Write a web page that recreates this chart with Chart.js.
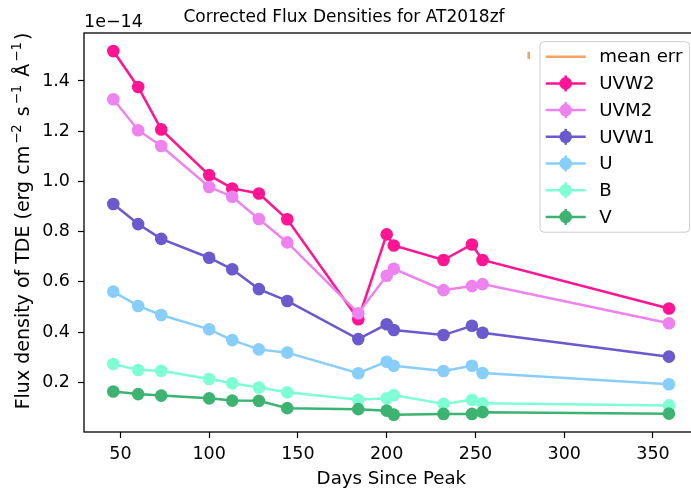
<!DOCTYPE html>
<html>
<head>
<meta charset="utf-8">
<title>Corrected Flux Densities for AT2018zf</title>
<script src="https://cdn.jsdelivr.net/npm/chart.js@4.4.0/dist/chart.umd.min.js"></script>
<style>
html, body { margin: 0; padding: 0; background: #fff; overflow: hidden; }
#wrap { position: relative; width: 705px; height: 492px; }
</style>
</head>
<body>
<div id="wrap"><canvas id="fluxChart" width="705" height="492"></canvas></div>
<script>
// days since peak for every epoch
const days = [46, 60, 73, 100, 113, 128, 144, 184, 200, 204, 232, 248, 254, 359];

// flux densities, in units of 1e-14 erg cm^-2 s^-1 A^-1
const uvw2 = [1.519, 1.376, 1.207, 1.025, 0.972, 0.952, 0.849, 0.451, 0.789, 0.745, 0.687, 0.749, 0.687, 0.494];
const uvm2 = [1.327, 1.204, 1.141, 0.978, 0.939, 0.850, 0.757, 0.475, 0.624, 0.652, 0.567, 0.583, 0.591, 0.435];
const uvw1 = [0.910, 0.830, 0.771, 0.696, 0.650, 0.571, 0.524, 0.372, 0.431, 0.408, 0.388, 0.425, 0.397, 0.302];
const uBand = [0.561, 0.504, 0.468, 0.411, 0.368, 0.331, 0.318, 0.236, 0.282, 0.266, 0.245, 0.266, 0.237, 0.192];
const bBand = [0.273, 0.249, 0.246, 0.213, 0.196, 0.179, 0.160, 0.130, 0.136, 0.149, 0.114, 0.130, 0.116, 0.108];
const vBand = [0.163, 0.153, 0.147, 0.136, 0.127, 0.126, 0.097, 0.093, 0.087, 0.071, 0.074, 0.074, 0.081, 0.075];

const bandNames = ['UVW2', 'UVM2', 'UVW1', 'U', 'B', 'V'];
const bandValues = [uvw2, uvm2, uvw1, uBand, bBand, vBand];
const bandColors = ['#FF1493', '#EE82EE', '#6A5ACD', '#87CEFA', '#7FFFD4', '#3CB371'];

// mean error bar shown at the top right
const meanErrDay = [280, 280];
const meanErrFlux = [1.487, 1.516];
const meanErrColor = '#F4A460';

const xTicks = [50, 100, 150, 200, 250, 300, 350];
const yTicks = [0.2, 0.4, 0.6, 0.8, 1.0, 1.2, 1.4];

const FONT = "'DejaVu Sans', sans-serif";
const FS = 17.5;      // tick labels
const FS_LABEL = 18.2; // axis labels, legend
const FS_TITLE = 17;

Chart.defaults.font.family = FONT;
Chart.defaults.font.size = FS;
Chart.defaults.color = '#000';

function fontStr(size) {
    return size + 'px ' + FONT;
}

function drawLegend(ctx) {
    const x0 = 540, y0 = 41.7, w = 149.5, h = 190.5, r = 4;
    ctx.save();
    ctx.beginPath();
    ctx.roundRect(x0, y0, w, h, r);
    ctx.fillStyle = 'rgba(255,255,255,0.8)';
    ctx.fill();
    ctx.lineWidth = 1;
    ctx.strokeStyle = '#cccccc';
    ctx.stroke();

    const rows = [{ label: 'mean err', color: meanErrColor, marker: false }]
        .concat(bandNames.map((n, i) => ({ label: n, color: bandColors[i], marker: true })));
    ctx.font = fontStr(FS_LABEL);
    ctx.textBaseline = 'middle';
    ctx.textAlign = 'left';
    rows.forEach((row, i) => {
        const cy = 56.7 + i * 26.7;
        ctx.strokeStyle = row.color;
        ctx.lineWidth = 2.5;
        ctx.beginPath();
        ctx.moveTo(545.7, cy);
        ctx.lineTo(585.7, cy);
        ctx.stroke();
        if (row.marker) {
            ctx.beginPath();
            ctx.moveTo(565.7, cy - 8);
            ctx.lineTo(565.7, cy + 8);
            ctx.stroke();
            ctx.fillStyle = row.color;
            ctx.beginPath();
            ctx.arc(565.7, cy, 6.3, 0, Math.PI * 2);
            ctx.fill();
        }
        ctx.fillStyle = '#000';
        ctx.fillText(row.label, 599.3, cy + 1);
    });
    ctx.restore();
}

// rotated y label with superscripts, like matplotlib mathtext
function drawYLabel(ctx, cx, cy) {
    const size = 19;
    const supSize = size * 0.7;
    const gap = 2;
    const parts = [
        ['Flux density of TDE (erg cm', false], ['\u22122', true], [' s', false],
        ['\u22121', true], [' \u00C5', false], ['\u22121', true], [')', false]
    ];
    let total = 0;
    parts.forEach(p => {
        ctx.font = fontStr(p[1] ? supSize : size);
        total += ctx.measureText(p[0]).width + (p[1] ? 2 * gap : 0);
    });
    ctx.save();
    ctx.translate(cx, cy);
    ctx.rotate(-Math.PI / 2);
    ctx.fillStyle = '#000';
    ctx.textBaseline = 'alphabetic';
    ctx.textAlign = 'left';
    let x = -total / 2;
    parts.forEach(p => {
        ctx.font = fontStr(p[1] ? supSize : size);
        if (p[1]) x += gap;
        ctx.fillText(p[0], x, p[1] ? -size * 0.4 : 0);
        x += ctx.measureText(p[0]).width + (p[1] ? gap : 0);
    });
    ctx.restore();
}

const decorPlugin = {
    id: 'decor',
    afterDraw(chart) {
        const ctx = chart.ctx;
        const a = chart.chartArea;
        ctx.save();
        // axes frame
        ctx.strokeStyle = '#000';
        ctx.lineWidth = 1.3;
        ctx.strokeRect(a.left, a.top, a.right - a.left, a.bottom - a.top);

        ctx.fillStyle = '#000';
        ctx.textAlign = 'center';
        ctx.textBaseline = 'alphabetic';
        ctx.font = fontStr(FS_TITLE);
        ctx.fillText('Corrected Flux Densities for AT2018zf', 344, 22);
        ctx.font = fontStr(FS_LABEL);
        ctx.fillText('Days Since Peak', (a.left + a.right) / 2, 484);
        ctx.textAlign = 'left';
        ctx.font = fontStr(FS);
        ctx.fillText('1e\u221214', 84, 26.5);
        ctx.restore();

        drawYLabel(ctx, 29, 221);
        drawLegend(ctx);
    }
};

const datasets = bandNames.map((name, i) => ({
    label: name,
    data: days.map((d, j) => ({ x: d, y: bandValues[i][j] })),
    borderColor: bandColors[i],
    backgroundColor: bandColors[i],
    pointBackgroundColor: bandColors[i],
    pointBorderWidth: 0,
    pointRadius: 6.3,
    pointHoverRadius: 6.3,
    borderWidth: 2.5,
    tension: 0,
    order: bandNames.length - i
}));

datasets.push({
    label: 'mean err',
    data: meanErrDay.map((d, j) => ({ x: d, y: meanErrFlux[j] })),
    borderColor: meanErrColor,
    borderWidth: 2.5,
    pointRadius: 0,
    order: 0
});

const ctx = document.getElementById('fluxChart').getContext('2d');
new Chart(ctx, {
    type: 'line',
    data: { datasets: datasets },
    options: {
        responsive: false,
        animation: false,
        events: [],
        layout: {
            padding: { top: 33, right: 4, left: 0, bottom: 0 }
        },
        plugins: {
            legend: { display: false },
            tooltip: { enabled: false },
            title: { display: false }
        },
        scales: {
            x: {
                type: 'linear',
                min: 29.5,
                max: 375.75,
                afterFit: scale => { scale.height = 60; },
                afterBuildTicks: scale => { scale.ticks = xTicks.map(v => ({ value: v })); },
                grid: {
                    drawOnChartArea: false,
                    drawTicks: true,
                    tickLength: 6,
                    tickWidth: 1.2,
                    tickColor: '#000'
                },
                border: { display: false },
                ticks: {
                    padding: 6,
                    maxRotation: 0,
                    color: '#000',
                    callback: value => String(value)
                }
            },
            y: {
                type: 'linear',
                min: 0.002,
                max: 1.591,
                afterFit: scale => { scale.width = 84; },
                afterBuildTicks: scale => { scale.ticks = yTicks.map(v => ({ value: v })); },
                grid: {
                    drawOnChartArea: false,
                    drawTicks: true,
                    tickLength: 6,
                    tickWidth: 1.2,
                    tickColor: '#000'
                },
                border: { display: false },
                ticks: {
                    padding: 8,
                    color: '#000',
                    callback: value => value.toFixed(1)
                }
            }
        }
    },
    plugins: [decorPlugin]
});
</script>
</body>
</html>
